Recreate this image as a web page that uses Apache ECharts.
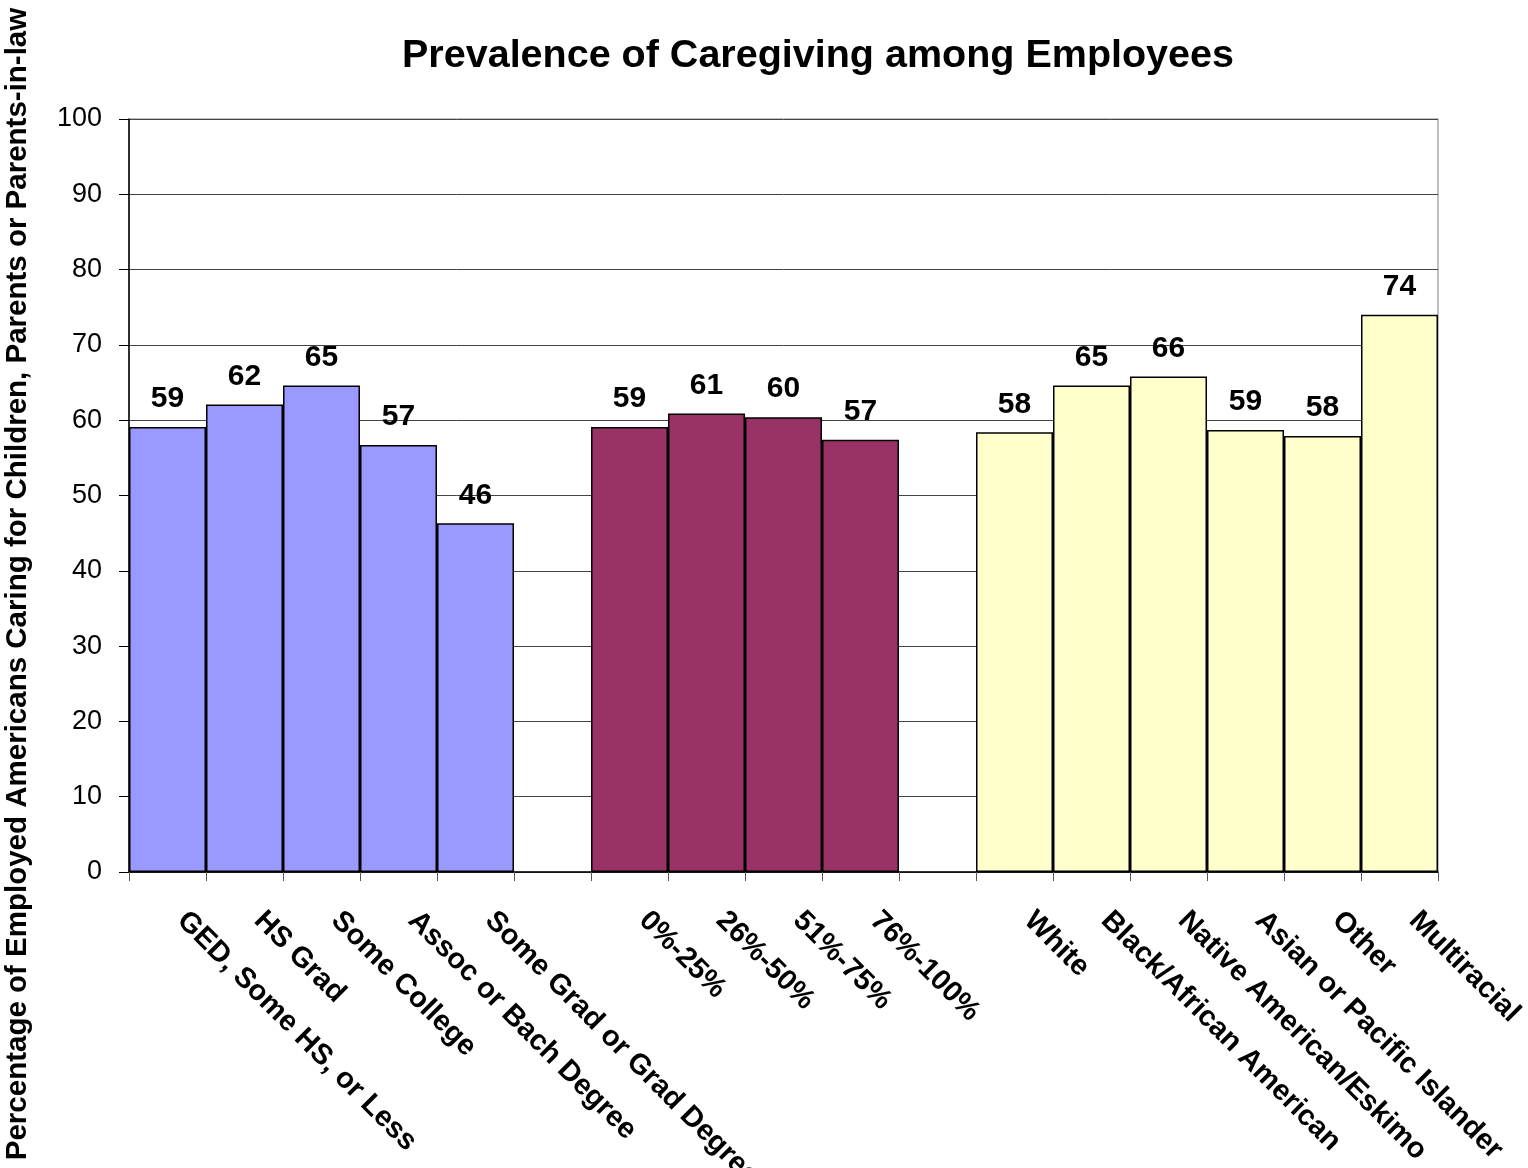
<!DOCTYPE html>
<html>
<head>
<meta charset="utf-8">
<script src="https://cdn.jsdelivr.net/npm/echarts@6/dist/echarts.min.js"></script>
<style>html,body{margin:0;padding:0;background:#fff;}#chart{width:1528px;height:1168px;}</style>
</head>
<body>
<div id="chart"></div>
<script>
const titleText = 'Prevalence of Caregiving among Employees';
const yAxisTitle = 'Percentage of Employed Americans Caring for Children, Parents or Parents-in-law';
const eduCats = ['GED, Some HS, or Less', 'HS Grad', 'Some College', 'Assoc or Bach Degree', 'Some Grad or Grad Degree'];
const eduVals = [59.1, 62.1, 64.6, 56.7, 46.3];
const eduLabels = ['59', '62', '65', '57', '46'];
const incomeCats = ['0%-25%', '26%-50%', '51%-75%', '76%-100%'];
const incomeVals = [59.1, 60.9, 60.4, 57.4];
const incomeLabels = ['59', '61', '60', '57'];
const raceCats = ['White', 'Black/African American', 'Native American/Eskimo', 'Asian or Pacific Islander', 'Other', 'Multiracial'];
const raceVals = [58.4, 64.6, 65.8, 58.7, 57.9, 74.0];
const raceLabels = ['58', '65', '66', '59', '58', '74'];
const yTicks = [0, 10, 20, 30, 40, 50, 60, 70, 80, 90, 100];

const groupColors = ['#9999FF', '#993366', '#FFFFCC'];
const groups = [
  [eduCats, eduVals, eduLabels],
  [incomeCats, incomeVals, incomeLabels],
  [raceCats, raceVals, raceLabels]
];
const categories = [];
const data = [];
groups.forEach((g, gi) => {
  if (gi > 0) { categories.push(' '.repeat(gi)); data.push({ value: '-' }); }
  g[0].forEach((c, i) => {
    categories.push(c);
    data.push({ value: g[1][i], lbl: g[2][i], itemStyle: { color: groupColors[gi] } });
  });
});

const FONT = 'Liberation Sans, Arial, sans-serif';
const chart = echarts.init(document.getElementById('chart'));
chart.setOption({
  animation: false,
  backgroundColor: '#fff',
  textStyle: { fontFamily: FONT },
  title: {
    text: titleText,
    left: 813, top: 31, textAlign: 'center',
    textStyle: { fontSize: 39.5, fontWeight: 'bold', color: '#000', fontFamily: FONT }
  },
  grid: { left: 129, right: 90, top: 119, bottom: 296, show: true, borderColor: '#808080', borderWidth: 1, containLabel: false, outerBoundsMode: 'none' },
  graphic: [{
    type: 'text', left: 3, top: 'middle', rotation: Math.PI / 2,
    style: { text: yAxisTitle, fontSize: 29.5, fontWeight: 'bold', fill: '#000', fontFamily: FONT }
  }],
  xAxis: {
    type: 'category', data: categories, boundaryGap: true,
    axisLine: { show: true, lineStyle: { color: '#000', width: 1.5 } },
    axisTick: { show: true, length: 9, interval: 0, lineStyle: { color: '#555' } },
    axisLabel: { interval: 0, rotate: -45, margin: 30, padding: [0, 0, 0, 20], fontSize: 29, fontWeight: 'bold', color: '#000' },
    splitLine: { show: false }
  },
  yAxis: {
    type: 'value', min: yTicks[0], max: yTicks[yTicks.length - 1], interval: 10,
    axisLine: { show: true, lineStyle: { color: '#000', width: 1.5 } },
    axisTick: { show: true, length: 10, lineStyle: { color: '#000' } },
    axisLabel: { fontSize: 27, color: '#000', margin: 27 },
    splitLine: { show: true, lineStyle: { color: '#444', width: 1 } }
  },
  series: [{
    type: 'bar', data: data, barWidth: '100%', barCategoryGap: 0,
    itemStyle: { borderColor: '#000', borderWidth: 1.5 },
    label: {
      show: true, position: 'top', distance: 13,
      fontSize: 30, fontWeight: 'bold', color: '#000',
      formatter: p => (p.data && p.data.lbl) ? p.data.lbl : ''
    }
  }]
});
</script>
</body>
</html>
